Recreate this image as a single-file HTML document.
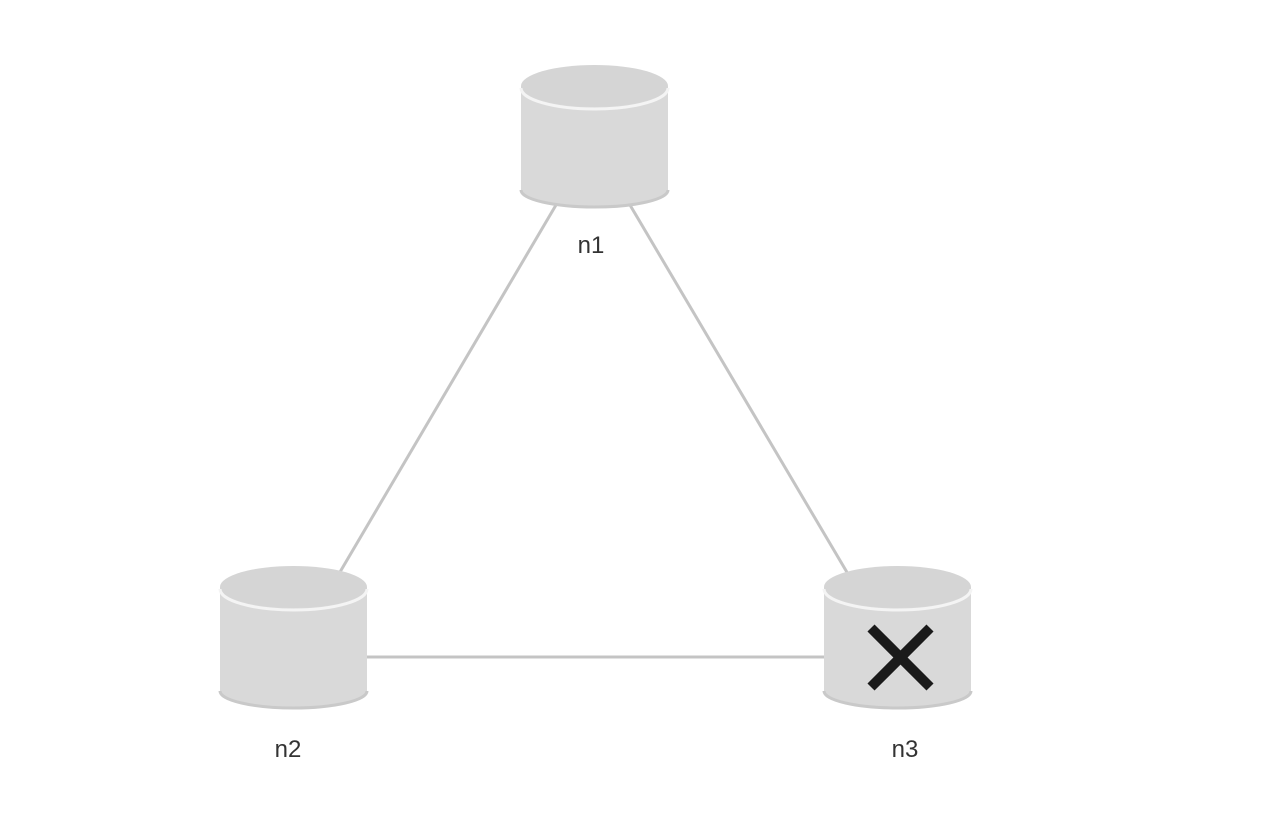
<!DOCTYPE html>
<html><head><style>body{margin:0;background:#fff}</style></head><body>
<svg width="1276" height="810" viewBox="0 0 1276 810" xmlns="http://www.w3.org/2000/svg">
<g stroke="#c4c4c4" stroke-width="3" fill="none">
<line x1="556" y1="205" x2="340" y2="572"/>
<line x1="630" y1="205" x2="848" y2="574"/>
<line x1="367" y1="657" x2="826" y2="657"/>
</g>
<defs>
<g id="cyl">
<path d="M0,0 L0,104 A73.5,17 0 0 0 147,104 L147,0 Z" fill="#d9d9d9"/>
<path d="M0,104 A73.5,17 0 0 0 147,104" fill="none" stroke="#c9c9c9" stroke-width="3"/>
<ellipse cx="73.5" cy="0" rx="73.5" ry="21" fill="#d5d5d5"/>
<path d="M0,2 A73.5,21 0 0 0 147,2" fill="none" stroke="#f4f4f4" stroke-width="3"/>
</g>
</defs>
<use href="#cyl" x="521" y="86"/>
<use href="#cyl" x="220" y="587"/>
<use href="#cyl" x="824" y="587"/>
<g stroke="#1a1a1a" stroke-width="10">
<line x1="871" y1="628" x2="930" y2="687"/>
<line x1="930" y1="628" x2="871" y2="687"/>
</g>
<g font-family="Liberation Sans, sans-serif" font-size="24" fill="#333" text-anchor="middle">
<text x="591" y="253">n1</text>
<text x="288" y="757">n2</text>
<text x="905" y="757">n3</text>
</g>
</svg>
</body></html>
